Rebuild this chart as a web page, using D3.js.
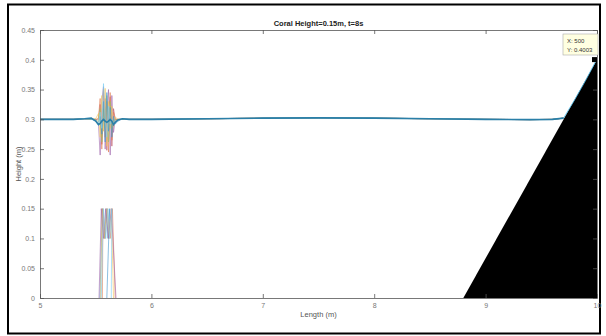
<!DOCTYPE html>
<html>
<head>
<meta charset="utf-8">
<script src="https://cdn.jsdelivr.net/npm/d3@7"></script>
<style>
    body { margin: 0; background: #fff; }
    svg { display: block; font-family: "Liberation Sans", Arial, sans-serif; }
</style>
</head>
<body>
<svg id="mainSVG" width="606" height="336"></svg>
<script>
/* ------------------------------------------------------------------------ */
/* --------------------------------- DATA --------------------------------- */
/* ------------------------------------------------------------------------ */

let xTicks = [5, 6, 7, 8, 9, 10]
let yTicks = [0, 0.05, 0.1, 0.15, 0.2, 0.25, 0.3, 0.35, 0.4, 0.45]

// still water line before / after the coral
let leftX = [5, 5.1, 5.2, 5.3, 5.4]
let leftY = [0.300, 0.300, 0.300, 0.300, 0.301]
let rightX = [5.8, 6.0, 6.5, 7.0, 7.5, 8.0, 8.5, 9.0, 9.4, 9.6, 9.7]
let rightY = [0.300, 0.300, 0.301, 0.302, 0.3025, 0.302, 0.301, 0.300, 0.2995, 0.300, 0.302]

// run-up of the last time step along the slope
let runupX = [9.7, 9.8, 9.9, 9.99]
let runupY = [0.302, 0.333, 0.366, 0.398]

// free surface over the coral, one array per time step
let spikeX = [5.46, 5.50, 5.525, 5.54, 5.555, 5.57, 5.585, 5.60, 5.615, 5.63, 5.645, 5.66, 5.675, 5.70, 5.74]
let surfRed = [0.300, 0.300, 0.300, 0.325, 0.258, 0.305, 0.335, 0.248, 0.315, 0.338, 0.255, 0.318, 0.300, 0.300, 0.300]
let surfPurple = [0.300, 0.300, 0.292, 0.240, 0.330, 0.355, 0.250, 0.312, 0.350, 0.240, 0.340, 0.278, 0.298, 0.300, 0.300]
let surfOrange = [0.300, 0.299, 0.303, 0.335, 0.250, 0.350, 0.270, 0.330, 0.245, 0.345, 0.265, 0.312, 0.300, 0.300, 0.300]
let surfYellow = [0.300, 0.301, 0.310, 0.270, 0.340, 0.280, 0.352, 0.255, 0.330, 0.285, 0.322, 0.288, 0.304, 0.300, 0.300]
let surfGreen = [0.300, 0.300, 0.296, 0.318, 0.262, 0.318, 0.285, 0.340, 0.262, 0.330, 0.282, 0.300, 0.299, 0.300, 0.300]
let surfBlue = [0.301, 0.297, 0.291, 0.305, 0.275, 0.330, 0.262, 0.345, 0.280, 0.320, 0.270, 0.305, 0.292, 0.297, 0.301]
let surfLightBlue = [0.300, 0.298, 0.290, 0.312, 0.285, 0.360, 0.300, 0.270, 0.322, 0.292, 0.300, 0.292, 0.296, 0.299, 0.301]
let surfFinal = [0.302, 0.297, 0.291, 0.293, 0.297, 0.300, 0.297, 0.295, 0.297, 0.300, 0.297, 0.291, 0.295, 0.299, 0.301]

// coral outline per time step
let coralY = [0, 0.15, 0.10, 0.15, 0.10, 0.15, 0]
let coralPurple = [5.530, 5.550, 5.570, 5.590, 5.615, 5.640, 5.682]
let coralYellow = [5.545, 5.555, 5.575, 5.600, 5.620, 5.640, 5.660]
let coralOrange = [5.560, 5.565, 5.585, 5.605, 5.630, 5.650, 5.675]
let coralBlue = [5.538, 5.560, 5.580, 5.595, 5.610, 5.625, 5.600]
let coralLightBlue = [5.550, 5.570, 5.590, 5.610, 5.625, 5.645, 5.640]

// bathymetry (beach slope)
let bathyX = [8.8, 10, 10]
let bathyY = [0, 0, 0.4]

let tipX = 10
let tipY = 0.4003

/* ------------------------------------------------------------------------ */
/* -------------------------------- LAYOUT -------------------------------- */
/* ------------------------------------------------------------------------ */

let svg = d3.select("#mainSVG")

let x = d3.scaleLinear().domain([5, 10]).range([40, 597])
let y = d3.scaleLinear().domain([0, 0.45]).range([298, 30])

let line = d3.line()
    .x(function (d) { return x(d[0]) })
    .y(function (d) { return y(d[1]) })

function zipXY(xs, ys) { return xs.map(function (v, i) { return [v, ys[i]] }) }

function surface(ys) {
    return zipXY(leftX, leftY).concat(zipXY(spikeX, ys)).concat(zipXY(rightX, rightY))
}

svg.append('rect')
    .attr('x', 8).attr('y', 4.5).attr('width', 592).attr('height', 329)
    .attr('fill', 'none').attr('stroke', '#000').attr('stroke-width', 2)

/* ---------------------- BATHYMETRY ---------------------- */

svg.append('path')
    .datum(zipXY(bathyX, bathyY))
    .attr('d', function (d) { return line(d) + 'Z' })
    .attr('fill', '#000')

/* ------------------------ CORAL ------------------------ */

let corals = [
    { xs: coralBlue, color: '#0072BD' },
    { xs: coralOrange, color: '#D95319' },
    { xs: coralYellow, color: '#EDB120' },
    { xs: coralPurple, color: '#7E2F8E' },
    { xs: coralLightBlue, color: '#4DBEEE' }
]

svg.append('g')
    .attr('opacity', 0.75)
    .selectAll('path')
    .data(corals)
    .enter()
        .append('path')
        .attr('d', function (d) { return line(zipXY(d.xs, coralY)) })
        .attr('fill', 'none')
        .attr('stroke', function (d) { return d.color })
        .attr('stroke-width', 0.6)

/* ----------------------- SURFACE ----------------------- */

let surfaces = [
    { ys: surfRed, color: '#A2142F' },
    { ys: surfPurple, color: '#7E2F8E' },
    { ys: surfOrange, color: '#D95319' },
    { ys: surfYellow, color: '#EDB120' },
    { ys: surfGreen, color: '#77AC30' },
    { ys: surfBlue, color: '#0072BD' },
    { ys: surfLightBlue, color: '#4DBEEE' }
]

svg.append('g')
    .attr('opacity', 0.75)
    .selectAll('path')
    .data(surfaces)
    .enter()
        .append('path')
        .attr('d', function (d) { return line(surface(d.ys)) })
        .attr('fill', 'none')
        .attr('stroke', function (d) { return d.color })
        .attr('stroke-width', 0.6)

svg.append('path')
    .attr('d', line(zipXY(runupX, runupY)))
    .attr('fill', 'none').attr('stroke', '#4DBEEE').attr('stroke-width', 0.8)

svg.append('path')
    .attr('d', line(surface(surfFinal)))
    .attr('fill', 'none').attr('stroke', '#2a7fa8').attr('stroke-width', 1.6)

/* ------------------------ AXES ------------------------ */

let axisColor = '#555'
let labelColor = '#777'
let fmt = d3.format('~g')

function styleAxis(g) {
    g.attr('color', axisColor)
    g.select('.domain').attr('stroke', axisColor).attr('stroke-width', 0.8)
    g.selectAll('.tick line').attr('stroke', axisColor).attr('stroke-width', 0.8)
    g.selectAll('.tick text').attr('fill', labelColor).attr('font-size', 7)
}

svg.append('g')
    .attr('transform', 'translate(0,298)')
    .call(d3.axisBottom(x).tickValues(xTicks).tickSize(-4).tickPadding(5).tickSizeOuter(0).tickFormat(fmt))
    .call(styleAxis)

svg.append('g')
    .attr('transform', 'translate(0,30)')
    .call(d3.axisTop(x).tickValues(xTicks).tickSize(-4).tickFormat('').tickSizeOuter(0))
    .call(styleAxis)

svg.append('g')
    .attr('transform', 'translate(40,0)')
    .call(d3.axisLeft(y).tickValues(yTicks).tickSize(-4).tickPadding(5).tickSizeOuter(0).tickFormat(fmt))
    .call(styleAxis)

svg.append('g')
    .attr('transform', 'translate(597,0)')
    .call(d3.axisRight(y).tickValues(yTicks).tickSize(-4).tickFormat('').tickSizeOuter(0))
    .call(styleAxis)

/* ------------------------ LABELS ------------------------ */

svg.append('text')
    .attr('x', 318.5).attr('y', 26)
    .attr('text-anchor', 'middle').attr('font-size', 7.5).attr('font-weight', 'bold').attr('fill', '#222')
    .text('Coral Height=0.15m, t=8s')

svg.append('text')
    .attr('x', 318.5).attr('y', 317)
    .attr('text-anchor', 'middle').attr('font-size', 7.5).attr('fill', '#555')
    .text('Length (m)')

svg.append('text')
    .attr('transform', 'translate(21,164) rotate(-90)')
    .attr('text-anchor', 'middle').attr('font-size', 7.5).attr('fill', '#555')
    .text('Height (m)')

/* ---------------------- DATA TIP ---------------------- */

svg.append('rect')
    .attr('x', x(tipX) - 5).attr('y', y(tipY) - 2.5).attr('width', 5).attr('height', 5)
    .attr('fill', '#000')

svg.append('rect')
    .attr('x', 563).attr('y', 34).attr('width', 35).attr('height', 21)
    .attr('fill', '#ffffe1').attr('stroke', '#aaa').attr('stroke-width', 0.6)

svg.append('text')
    .attr('x', 567).attr('y', 43).attr('font-size', 6).attr('fill', '#333')
    .text('X: 500')

svg.append('text')
    .attr('x', 567).attr('y', 51.5).attr('font-size', 6).attr('fill', '#333')
    .text('Y: 0.4003')
</script>
</body>
</html>
